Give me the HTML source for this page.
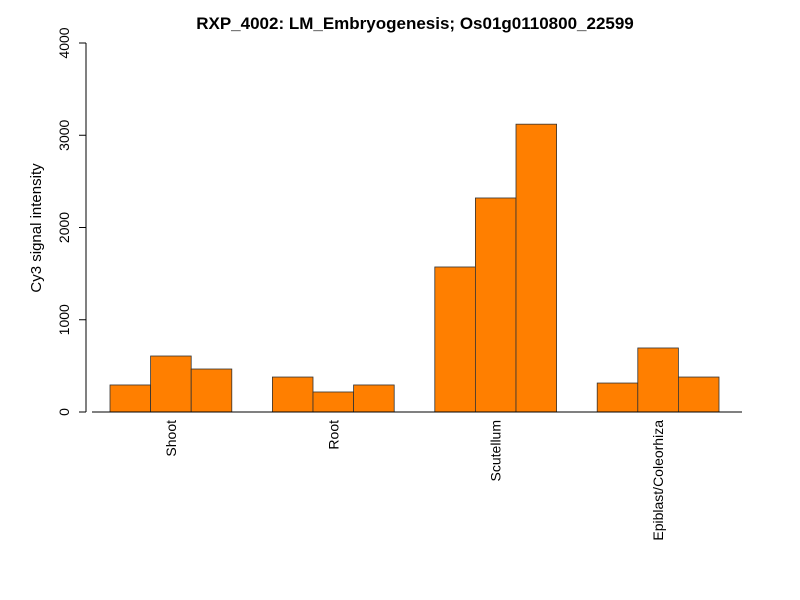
<!DOCTYPE html>
<html><head><meta charset="utf-8"><style>body{margin:0;background:#fff}svg{display:block;font-family:"Liberation Sans",sans-serif}</style></head>
<body>
<svg id="chart" width="800" height="600">
<text x="415" y="29" text-anchor="middle" font-size="17" font-weight="bold">RXP_4002: LM_Embryogenesis; Os01g0110800_22599</text>
<text transform="translate(41,228) rotate(-90)" text-anchor="middle" font-size="15">Cy3 signal intensity</text>
<g id="yaxis"></g>
<g id="bars"></g>
<g id="xlabels"></g>
<line x1="92" y1="412" x2="742" y2="412" stroke="#000"/>
</svg>
<script>
const categories = ["Shoot","Root","Scutellum","Epiblast/Coleorhiza"];
const values = [[293,607,466],[379,217,293],[1572,2320,3120],[314,694,379]];
const yTicks = [0,1000,2000,3000,4000];
const NS="http://www.w3.org/2000/svg";
function y(v){return 412 - v*(412-43)/4000;}
const barW=40.6, x0=110;
function xBar(g,i){return x0 + (g*4+i)*barW;}
function mk(t,a,p){const e=document.createElementNS(NS,t);for(const k in a)e.setAttribute(k,a[k]);p.appendChild(e);return e;}
const ya=document.getElementById('yaxis');
const ax=mk('line',{x1:86,x2:86,y1:y(0),y2:y(4000),stroke:'#000'},ya);


yTicks.forEach(t=>{
  const l=mk('line',{x1:79,x2:86,y1:y(t),y2:y(t),stroke:'#000'},ya);
  
  
  const tx=mk('text',{transform:`translate(69,${y(t)}) rotate(-90)`,'text-anchor':'middle','font-size':14},ya);
  tx.textContent=t;
  
  
});
const bg=document.getElementById('bars'), xl=document.getElementById('xlabels');
values.forEach((grp,g)=>{
  grp.forEach((v,i)=>{
    const r=mk('rect',{x:xBar(g,i),y:y(v),width:barW,height:y(0)-y(v),fill:'#ff7f00',stroke:'#333','stroke-width':0.8},bg);
    
    
  });
  const cx=xBar(g,1.5);
  const t=mk('text',{transform:`translate(${cx+5},420) rotate(-90)`,'text-anchor':'end','font-size':14},xl);
  t.textContent=categories[g];
  
  
});
</script>
</body></html>
